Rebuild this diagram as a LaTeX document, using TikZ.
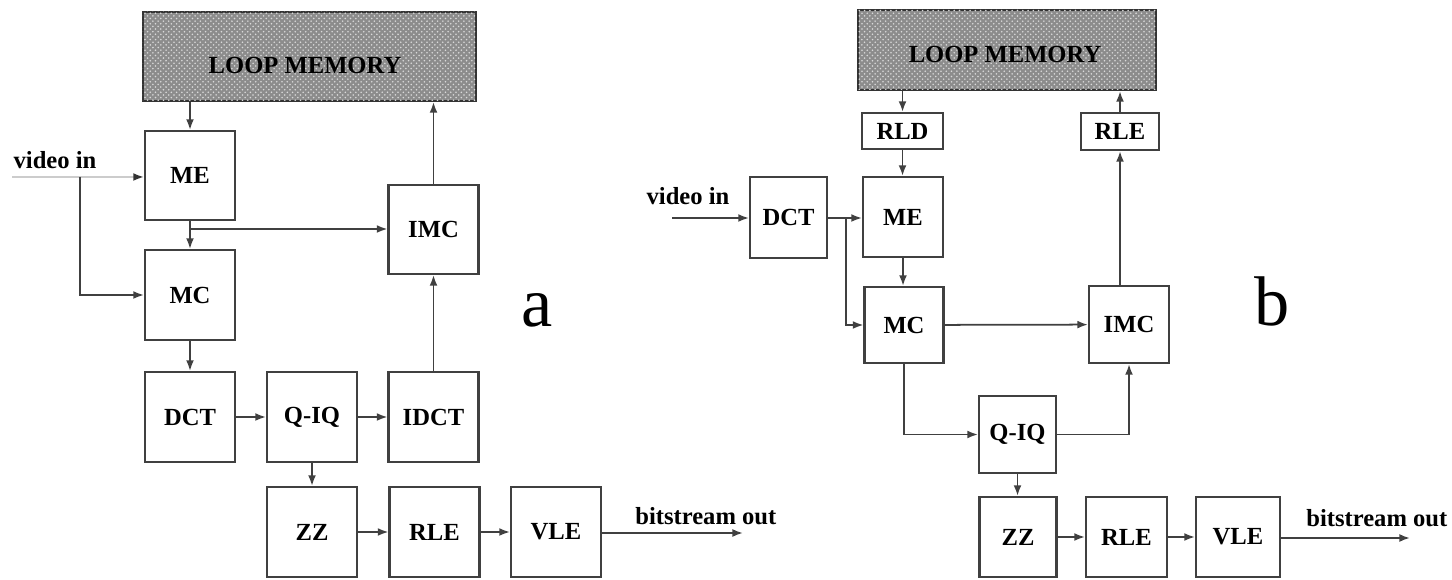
\documentclass[tikz,border=0pt]{standalone}
\usepackage{fontspec}
\setmainfont{Liberation Serif}
\usetikzlibrary{arrows.meta,patterns}
\begin{document}
\begin{tikzpicture}[x=0.2mm,y=-0.2mm,
    box/.style={draw=black!75,line width=1.3pt,fill=white,inner sep=0pt,
      minimum width=18mm,minimum height=18mm,font=\fontsize{14}{16}\selectfont\bfseries},
    mem/.style={draw=black!80,line width=1.3pt,fill=black!45,inner sep=0pt,
      postaction={pattern=crosshatch dots,pattern color=white!85!black}},
    link/.style={draw=black!75,line width=1pt,-{Latex[length=6pt,width=4.5pt]}},
    faint/.style={draw=black!20,-{Latex[length=6pt,width=4.5pt,black!80]}},
    txt/.style={inner sep=0pt,font=\fontsize{14}{16}\selectfont\bfseries},
    tag/.style={inner sep=0pt,font=\fontsize{40}{44}\selectfont}]
  \useasboundingbox (0,0) rectangle (1452,580);

  % part a
  \node[mem,minimum width=66.6mm,minimum height=17.8mm] (LMa) at (309.5,56.5) {};
  \node[txt] (LMalbl) at (305,65) {LOOP MEMORY};
  \node[box,minimum height=17.8mm] (MEa) at (190,175.5) {ME};
  \node[box] (MCa) at (190,295) {MC};
  \node[box,minimum height=17.8mm] (IMCa) at (433.5,229.5) {IMC};
  \node[box] (DCTa) at (190,417) {DCT};
  \node[box] (QIQa) at (312,417) {Q-IQ};
  \node[box] (IDCTa) at (433.5,417) {IDCT};
  \node[box] (ZZa) at (312,532) {ZZ};
  \node[box] (RLEa) at (434.5,532) {RLE};
  \node[box] (VLEa) at (556,532) {VLE};
  \node[txt] (vinalbl) at (55,160) {video in};
  \node[txt,anchor=base west] (outalbl) at (635,525) {bitstream out};
  \node[tag] (taga) at (537,310) {a};
  \coordinate (vina) at (12,177);
  \coordinate (ka) at (80,177);
  \coordinate (ja) at (190,229);
  \coordinate (outa) at (743,533);

  \draw[link,faint] (vina) -- (vina -| MEa.west);
  \draw[link] (ka) |- (MCa.west);
  \draw[link] (LMa.south -| MEa) -- (MEa);
  \draw[link] (MEa) -- (MCa);
  \draw[link] (ja) -- (ja -| IMCa.west);
  \draw[link] (IMCa) -- (IMCa |- LMa.south);
  \draw[link] (MCa) -- (DCTa);
  \draw[link] (DCTa) -- (QIQa);
  \draw[link] (QIQa) -- (IDCTa);
  \draw[link] (IDCTa) -- (IMCa);
  \draw[link] (QIQa) -- (ZZa);
  \draw[link] (ZZa) -- (RLEa);
  \draw[link] (RLEa) -- (VLEa);
  \draw[link] (VLEa.east |- outa) -- (outa);

  % part b
  \node[mem,minimum width=59.6mm,minimum height=16mm] (LMb) at (1007,50) {};
  \node[txt] (LMblbl) at (1005,54) {LOOP MEMORY};
  \node[box,minimum width=16.2mm,minimum height=7.2mm] (RLDb) at (902.5,131) {RLD};
  \node[box,minimum width=15.6mm,minimum height=7.4mm] (RLEtb) at (1120,131.5) {RLE};
  \node[box,minimum width=16mm,minimum height=16mm] (MEb) at (903,217) {ME};
  \node[box,minimum width=15.4mm,minimum height=16.2mm] (DCTb) at (788.5,217.5) {DCT};
  \node[box,minimum width=15.8mm,minimum height=15.2mm] (MCb) at (904,325) {MC};
  \node[box,minimum width=16mm,minimum height=15.4mm] (IMCb) at (1129,324.5) {IMC};
  \node[box,minimum width=15.4mm,minimum height=15.4mm] (QIQb) at (1017.5,434.5) {Q-IQ};
  \node[box,minimum width=15.4mm,minimum height=16mm] (ZZb) at (1018,537) {ZZ};
  \node[box,minimum width=16.2mm,minimum height=16mm] (RLEb) at (1126.5,537) {RLE};
  \node[box,minimum width=16.8mm,minimum height=16mm] (VLEb) at (1238,537) {VLE};
  \node[txt] (vinblbl) at (688,196) {video in};
  \node[txt,anchor=base west] (outblbl) at (1306,527) {bitstream out};
  \node[tag] (tagb) at (1272,301) {b};
  \coordinate (vinb) at (672,218);
  \coordinate (jb) at (846,218);
  \coordinate (outb) at (1410,538);

  \draw[link] (vinb) -- (vinb -| DCTb.west);
  \draw[link] (DCTb.east |- jb) -- (jb -| MEb.west);
  \draw[link] (jb) |- (MCb.west);
  \draw[link] (LMb.south -| RLDb) -- (RLDb);
  \draw[link] (RLDb) -- (RLDb |- MEb.north);
  \draw[link] (MEb) -- (MEb |- MCb.north);
  \draw[link] (MCb) -- (IMCb);
  \draw[link] (MCb.south) |- (QIQb.west);
  \draw[link] (QIQb.east) -| (IMCb.south);
  \draw[link] (QIQb) -- (QIQb |- ZZb.north);
  \draw[link] (ZZb) -- (RLEb);
  \draw[link] (RLEb) -- (VLEb);
  \draw[link] (VLEb.east |- outb) -- (outb);
  \draw[link] (RLEtb |- IMCb.north) -- (RLEtb.south);
  \draw[link] (RLEtb.north) -- (RLEtb |- LMb.south);
\end{tikzpicture}
\end{document}
